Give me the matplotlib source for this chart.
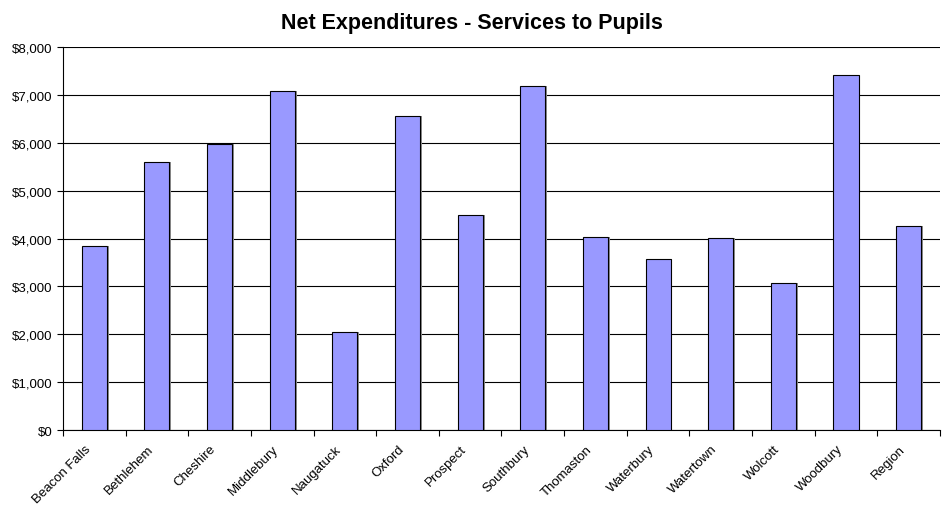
import matplotlib
matplotlib.use("Agg")
import matplotlib.pyplot as plt
import matplotlib.transforms as mtransforms
from matplotlib.ticker import FuncFormatter, MultipleLocator
import numpy as np

plt.rcParams["font.family"] = ["Liberation Sans", "DejaVu Sans"]

towns = ["Beacon Falls", "Bethlehem", "Cheshire", "Middlebury", "Naugatuck",
         "Oxford", "Prospect", "Southbury", "Thomaston", "Waterbury",
         "Watertown", "Wolcott", "Woodbury", "Region"]
spend = [3850, 5610, 5970, 7090, 2040, 6570, 4490, 7190, 4040, 3570,
         4010, 3070, 7410, 4260]

fig = plt.figure(figsize=(9.44, 5.06), dpi=100)
ax = fig.add_axes([0.0667, 0.148, 0.929, 0.757])

x = np.arange(len(towns))
# drop shadow behind each bar
ax.bar(x + 0.03, spend, width=0.4, color="#8c8c8c", zorder=2, linewidth=0)
ax.bar(x, spend, width=0.4, color="#9999ff", edgecolor="black",
       linewidth=0.8, zorder=3)

ax.set_xlim(-0.5, len(towns) - 0.5)
ax.set_ylim(0, 8000)
ax.yaxis.set_major_locator(MultipleLocator(1000))
ax.yaxis.set_major_formatter(FuncFormatter(lambda v, _: f"${v:,.0f}"))
ax.grid(axis="y", color="black", linewidth=0.8, zorder=1)

ax.set_xticks(np.arange(len(towns) + 1) - 0.5)
ax.set_xticklabels([])
ax.set_xticks(x, minor=True)
ax.set_xticklabels(towns, minor=True, rotation=45, ha="right",
                   rotation_mode="anchor", fontsize=9.5)
ax.tick_params(axis="x", which="minor", length=0, pad=9)
ax.tick_params(axis="x", which="major", length=4, direction="out")
ax.tick_params(axis="y", labelsize=9.5, length=4)

# nudge the slanted labels a little to the left, like the original
shift = mtransforms.ScaledTranslation(-7 / 72, 0, fig.dpi_scale_trans)
for lbl in ax.get_xticklabels(minor=True):
    lbl.set_transform(lbl.get_transform() + shift)

for side in ["top", "right"]:
    ax.spines[side].set_visible(False)

fig.suptitle("Net Expenditures - Services to Pupils", fontsize=15.5,
             fontweight="bold", y=0.975)

fig.savefig("out.png", dpi=100)
